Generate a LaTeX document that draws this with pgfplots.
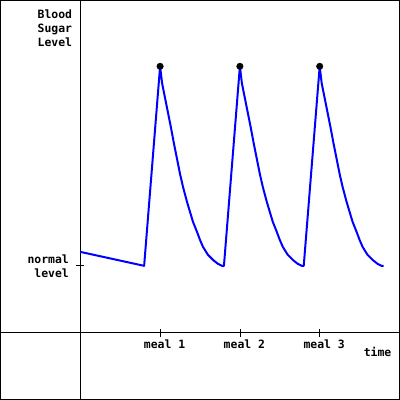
\documentclass[border=0pt]{standalone}
\usepackage{fontspec}
\setmonofont{DejaVu Sans Mono}
\usepackage{pgfplots}
\pgfplotsset{compat=1.18}
\newcommand{\lab}{\ttfamily\bfseries\fontsize{11.5}{14}\selectfont}
\begin{document}
\begin{tikzpicture}
\begin{axis}[
  width=400bp, height=400bp, scale only axis,
  xmin=-80, xmax=320, ymin=-67, ymax=333,
  axis lines=middle,
  axis line style={-, line width=1bp, black},
  xtick={80,160,240},
  xticklabels={meal 1, meal 2, meal 3},
  ytick={67},
  yticklabels={normal\\level},
  tick style={black, line width=0.8bp},
  major tick length=8bp,
  tick align=center,
  ticklabel style={font=\lab},
  xticklabel style={anchor=north, xshift=4.5bp},
  yticklabel style={align=right, anchor=east, xshift=-4bp},
  clip=false,
]
% blood sugar curve
\addplot[blue, line width=2bp, line join=round] coordinates {
  (0,81) (64,67)
  (80,267) (82,250) (85,235) (88,220) (91,205) (94,189) (97,174) (100,159)
  (103,146) (107,131) (110,121) (113,111) (117,101) (120,93) (123,86)
  (128,78) (133,73) (138,69) (142,67) (144,67)
  (160,267) (162,250) (165,235) (168,220) (171,205) (174,189) (177,174) (180,159)
  (183,146) (187,131) (190,121) (193,111) (197,101) (200,93) (203,86)
  (208,78) (213,73) (218,69) (222,67) (224,67)
  (240,267) (242,250) (245,235) (248,220) (251,205) (254,189) (257,174) (260,159)
  (263,146) (267,131) (270,121) (273,111) (277,101) (280,93) (283,86)
  (288,78) (293,73) (298,69) (302,67) (304,67)
};
% peaks
\addplot[only marks, mark=*, mark size=3.3pt, black] coordinates {
  (80,267) (160,267) (240,267)
};
\node[anchor=north east, align=right, font=\lab, inner sep=0pt]
  at (axis cs:-8,324) {Blood\\Sugar\\Level};
\node[anchor=base east, font=\lab, inner sep=0pt] at (axis cs:312,-24) {time};
\draw[line width=1bp, black] ([shift={(0.5bp,0.5bp)}]rel axis cs:0,0)
  rectangle ([shift={(-0.5bp,-0.5bp)}]rel axis cs:1,1);
\end{axis}
\end{tikzpicture}
\end{document}
